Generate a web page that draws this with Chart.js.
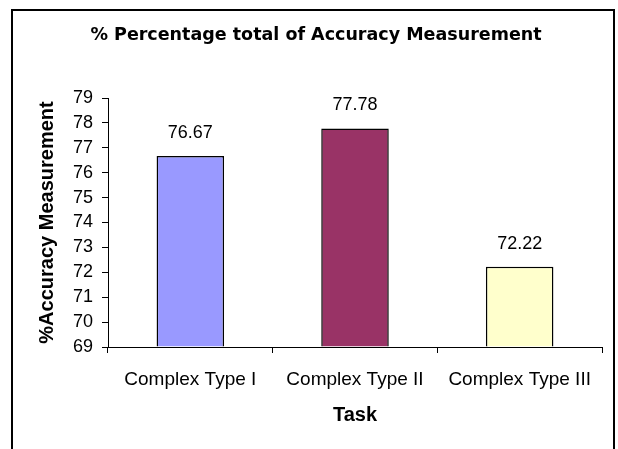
<!DOCTYPE html>
<html>
<head>
<meta charset="utf-8">
<script src="https://cdn.jsdelivr.net/npm/chart.js@4/dist/chart.umd.min.js"></script>
<style>
    html, body { margin: 0; padding: 0; background: #fff; overflow: hidden; }
    #wrap { position: relative; width: 618px; height: 449px; }
    #frame {
        position: absolute; left: 11px; top: 9px;
        width: 600px; height: 500px;
        border: 2px solid #000;
    }
    #chart { position: absolute; left: 0; top: 0; }
</style>
</head>
<body>
<div id="wrap">
    <div id="frame"></div>
    <canvas id="chart" width="618" height="449"></canvas>
</div>
<script>
// Data ------------------------------------------------------------------------------

var CATEGORIES = ['Complex Type I', 'Complex Type II', 'Complex Type III'];
var ACCURACY_VALUES = [76.67, 77.78, 72.22];
var BAR_COLORS = ['#9999FF', '#993366', '#FFFFCC'];

var Y_MIN = 69;
var Y_MAX = 79;
var Y_STEP = 1;

var TITLE = '% Percentage total of Accuracy Measurement';
var Y_TITLE = '%Accuracy Measurement';
var X_TITLE = 'Task';

// Constants -------------------------------------------------------------------------

var FONT = 'Liberation Sans';
var AXIS_COLOR = '#000';

// Plugins ---------------------------------------------------------------------------

// writes the value above each bar
var valueLabels = {
    id: 'valueLabels',
    afterDatasetsDraw: function (chart) {
        var ctx = chart.ctx;
        var meta = chart.getDatasetMeta(0);
        ctx.save();
        ctx.font = '18px "' + FONT + '"';
        ctx.fillStyle = '#000';
        ctx.textAlign = 'center';
        ctx.textBaseline = 'middle';
        meta.data.forEach(function (bar, i) {
            ctx.fillText(ACCURACY_VALUES[i].toFixed(2), bar.x, bar.y - 23);
        });
        ctx.restore();
    }
};

// Chart -----------------------------------------------------------------------------

var ctx = document.getElementById('chart').getContext('2d');

new Chart(ctx, {
    type: 'bar',
    data: {
        labels: CATEGORIES,
        datasets: [{
            data: ACCURACY_VALUES,
            base: Y_MIN,
            backgroundColor: BAR_COLORS,
            borderColor: '#000',
            borderWidth: 1.5,
            barPercentage: 0.41,
            categoryPercentage: 1.0
        }]
    },
    options: {
        responsive: false,
        animation: false,
        layout: { padding: { left: 30, right: 16, top: 0, bottom: 0 } },
        plugins: {
            legend: { display: false },
            tooltip: { enabled: false },
            title: {
                display: true,
                text: TITLE,
                color: '#000',
                font: { family: 'DejaVu Sans', weight: 'bold', size: 17.5 },
                padding: { top: 24.5, bottom: 52.5 }
            }
        },
        scales: {
            x: {
                offset: true,
                grid: {
                    offset: true,
                    drawOnChartArea: false,
                    drawTicks: true,
                    tickLength: 6,
                    color: AXIS_COLOR
                },
                border: { color: AXIS_COLOR, width: 1 },
                ticks: {
                    color: '#000',
                    padding: 15,
                    maxRotation: 0,
                    autoSkip: false,
                    font: { family: FONT, size: 19 }
                },
                title: {
                    display: true,
                    text: X_TITLE,
                    color: '#000',
                    font: { family: FONT, weight: 'bold', size: 20 },
                    padding: { top: 0, bottom: 21.5 }
                },
                afterFit: function (scale) { scale.height = 102; }
            },
            y: {
                min: Y_MIN,
                max: Y_MAX,
                grid: {
                    drawOnChartArea: false,
                    drawTicks: true,
                    tickLength: 6,
                    color: AXIS_COLOR
                },
                border: { color: AXIS_COLOR, width: 1 },
                ticks: {
                    stepSize: Y_STEP,
                    color: '#000',
                    padding: 9,
                    font: { family: FONT, size: 18 }
                },
                title: {
                    display: true,
                    text: Y_TITLE,
                    color: '#000',
                    font: { family: FONT, weight: 'bold', size: 20 },
                    padding: { top: 5, bottom: 0 }
                },
                afterFit: function (scale) { scale.width = 78; }
            }
        }
    },
    plugins: [valueLabels]
});
</script>
</body>
</html>
